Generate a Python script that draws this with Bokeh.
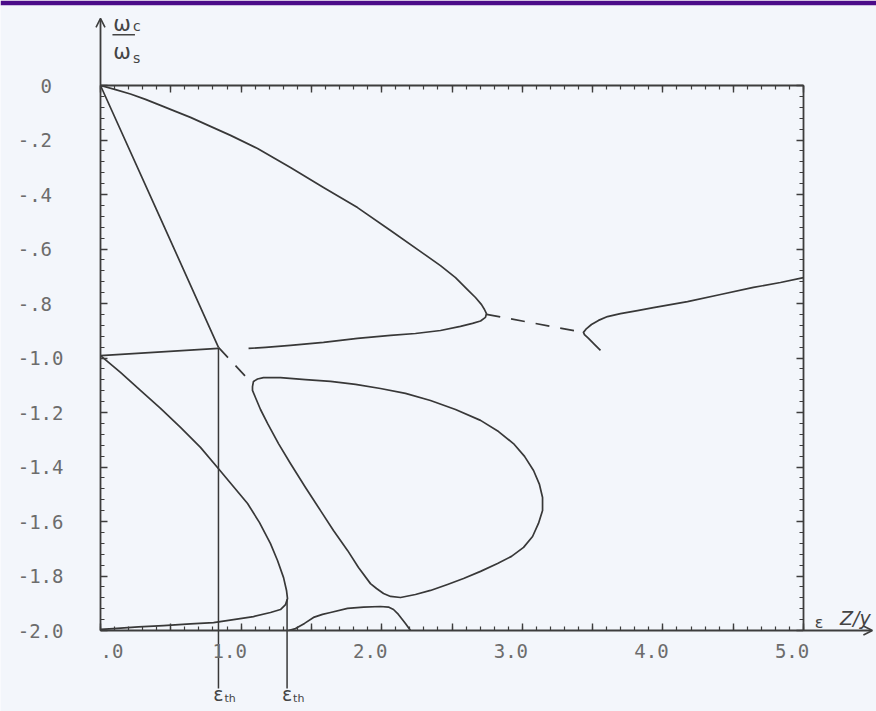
from bokeh.plotting import figure
from bokeh.models import LinearAxis, FixedTicker, Range1d, Arrow, OpenHead
from bokeh.core.properties import value
from bokeh.embed import file_html
from bokeh.resources import INLINE

# ---------------- data ----------------
# upper branch: from the origin out to the turning point, then back towards the crossing
wing_x = [0.0, 0.107, 0.213, 0.320, 0.427, 0.533, 0.640, 0.782, 0.925, 1.117, 1.351, 1.586,
          1.828, 2.063, 2.297, 2.418, 2.525, 2.610, 2.667, 2.710, 2.731, 2.745, 2.738, 2.703,
          2.646, 2.560, 2.418, 2.240, 2.063, 1.828, 1.586, 1.351, 1.174, 1.053]
wing_y = [0.0, -0.015, -0.031, -0.051, -0.073, -0.095, -0.117, -0.150, -0.183, -0.231, -0.301,
          -0.374, -0.448, -0.532, -0.617, -0.661, -0.705, -0.749, -0.778, -0.804, -0.822, -0.837,
          -0.851, -0.864, -0.873, -0.884, -0.899, -0.910, -0.917, -0.928, -0.943, -0.954, -0.961,
          -0.965]

# dashed link between the turning point and the right-hand branch
link_x = [2.745, 3.435]
link_y = [-0.840, -0.906]

# right-hand branch (short lower stub, junction, rising branch)
right_x = [3.556, 3.513, 3.471, 3.442, 3.435, 3.457, 3.492, 3.542, 3.606, 3.698, 3.819, 3.933,
           4.175, 4.410, 4.644, 4.836, 5.0]
right_y = [-0.972, -0.950, -0.928, -0.914, -0.906, -0.892, -0.877, -0.862, -0.848, -0.837,
           -0.826, -0.815, -0.793, -0.767, -0.741, -0.723, -0.705]

# steep branch from the origin down to the first threshold
steep_x = [0.0, 0.420, 0.839]
steep_y = [0.0, -0.480, -0.961]

# dashed continuation of the steep branch
steep_dash_x = [0.839, 1.075]
steep_dash_y = [-0.961, -1.092]

# nearly flat branch starting at -1
flat_x = [0.0, 0.839]
flat_y = [-0.991, -0.965]

# closed loop
loop_x = [1.081, 1.088, 1.117, 1.159, 1.280, 1.458, 1.636, 1.814, 1.991, 2.169, 2.347, 2.525,
          2.703, 2.831, 2.937, 3.016, 3.080, 3.122, 3.144, 3.144, 3.115, 3.073, 3.009, 2.923,
          2.824, 2.703, 2.582, 2.468, 2.347, 2.240, 2.134, 2.063, 2.013, 1.963, 1.920, 1.835,
          1.757, 1.657, 1.565, 1.458, 1.351, 1.266, 1.188, 1.138, 1.102, 1.081, 1.081]
loop_y = [-1.105, -1.086, -1.077, -1.072, -1.072, -1.079, -1.086, -1.097, -1.112, -1.130,
          -1.156, -1.189, -1.229, -1.270, -1.314, -1.361, -1.413, -1.464, -1.512, -1.560,
          -1.607, -1.655, -1.695, -1.728, -1.754, -1.783, -1.809, -1.831, -1.853, -1.868,
          -1.879, -1.875, -1.864, -1.846, -1.828, -1.769, -1.706, -1.633, -1.560, -1.475,
          -1.387, -1.314, -1.240, -1.189, -1.145, -1.119, -1.105]

# lower-left branch from -1 down to the second threshold and back to -2
lower_x = [0.0, 0.142, 0.284, 0.427, 0.569, 0.711, 0.832, 0.939, 1.046, 1.131, 1.209, 1.259,
           1.302, 1.323, 1.330, 1.316, 1.280, 1.209, 1.088, 0.946, 0.804, 0.640, 0.448, 0.270,
           0.092, 0.0]
lower_y = [-0.991, -1.053, -1.119, -1.185, -1.255, -1.328, -1.402, -1.468, -1.534, -1.604,
           -1.681, -1.743, -1.806, -1.853, -1.883, -1.905, -1.923, -1.934, -1.949, -1.960,
           -1.971, -1.976, -1.982, -1.987, -1.993, -1.996]

# small hump near the bottom
hump_x = [1.337, 1.387, 1.451, 1.515, 1.579, 1.636, 1.757, 1.871, 1.991, 2.048, 2.084, 2.119,
          2.169, 2.205]
hump_y = [-2.0, -1.993, -1.974, -1.952, -1.941, -1.934, -1.919, -1.914, -1.912, -1.914,
          -1.923, -1.941, -1.974, -2.0]

# threshold values and where their markers start
eps_th = [0.839, 1.327]
eps_th_top = [-0.963, -1.885]

# ticks
x_ticks = [0.0, 0.5, 1.0, 1.5, 2.0, 2.5, 3.0, 3.5, 4.0, 4.5, 5.0]
x_tick_labels = ["\u00a0\u00a0.0", "", "1.0\u00a0\u00a0", "", "2.0\u00a0\u00a0", "",
                 "3.0\u00a0\u00a0", "", "4.0\u00a0\u00a0", "", "5.0\u00a0\u00a0"]
x_minor = [i / 10 for i in range(51)]
y_ticks = [0.0, -0.2, -0.4, -0.6, -0.8, -1.0, -1.2, -1.4, -1.6, -1.8, -2.0]
y_tick_labels = ["0\u00a0", "-.2\u00a0", "-.4\u00a0", "-.6\u00a0", "-.8\u00a0", "-1.0",
                 "-1.2", "-1.4", "-1.6", "-1.8", "-2.0"]
y_minor = [-i * 0.04 for i in range(51)]

# ---------------- layout ----------------
W, H = 876, 711
TOP_BAND = 5
X0_PX, X_SCALE = 100.0, 140.6      # pixel of x=0, pixels per unit
Y0_PX, Y_SCALE = 85.0, 272.5       # pixel of y=0, pixels per unit

x_range = Range1d(-X0_PX / X_SCALE, (W - X0_PX) / X_SCALE)
y_range = Range1d(-(H - Y0_PX) / Y_SCALE, (Y0_PX - TOP_BAND) / Y_SCALE)

INK = "#383838"
FRAME = "#3d3d3d"
LABEL = "#6c6c6c"
PEN = "#444444"
MONO = "DejaVu Sans Mono"

p = figure(width=W, height=H, x_range=x_range, y_range=y_range,
           x_axis_type=None, y_axis_type=None,
           toolbar_location=None, output_backend="svg",
           min_border=0, min_border_top=TOP_BAND,
           border_fill_color="#4b0c89", background_fill_color="#f3f6fb",
           outline_line_color=None)


def frame_axis(fixed, bounds, ticks, minor, labels, standoff=0):
    ax = LinearAxis(fixed_location=fixed, bounds=bounds,
                    ticker=FixedTicker(ticks=ticks, minor_ticks=minor),
                    major_label_overrides=dict(zip(ticks, labels)),
                    axis_line_color=FRAME, axis_line_width=1.8,
                    major_tick_line_color=FRAME, major_tick_line_width=1.4,
                    minor_tick_line_color=FRAME, minor_tick_line_width=1.2,
                    major_tick_in=7, major_tick_out=0,
                    minor_tick_in=4, minor_tick_out=0,
                    major_label_standoff=standoff,
                    major_label_text_font=MONO,
                    major_label_text_font_size="19px",
                    major_label_text_color=LABEL)
    return ax


blank_x = [""] * len(x_ticks)
blank_y = [""] * len(y_ticks)

p.add_layout(frame_axis(0, (-2, 0), y_ticks, y_minor, y_tick_labels, standoff=37), "left")
p.add_layout(frame_axis(5, (-2, 0), y_ticks, y_minor, blank_y), "right")
p.add_layout(frame_axis(-2, (0, 5), x_ticks, x_minor, x_tick_labels, standoff=9), "below")
p.add_layout(frame_axis(0, (0, 5), x_ticks, x_minor, blank_x), "above")

# axis arrows beyond the frame
p.add_layout(Arrow(end=OpenHead(size=9, line_color=FRAME, line_width=1.6),
                   x_start=0, y_start=0, x_end=0, y_end=0.246,
                   line_color=FRAME, line_width=1.8))
p.add_layout(Arrow(end=OpenHead(size=9, line_color=FRAME, line_width=1.6),
                   x_start=5, y_start=-2, x_end=5.49, y_end=-2,
                   line_color=FRAME, line_width=1.8))

# curves
solid = dict(line_color=INK, line_width=1.7, line_join="round")
dashed = dict(line_color=INK, line_width=1.7, line_dash="14 11")
p.line(wing_x, wing_y, **solid)
p.line(link_x, link_y, **dashed)
p.line(right_x, right_y, **solid)
p.line(steep_x, steep_y, **solid)
p.line(steep_dash_x, steep_dash_y, **dashed)
p.line(flat_x, flat_y, **solid)
p.line(loop_x, loop_y, **solid)
p.line(lower_x, lower_y, **solid)
p.line(hump_x, hump_y, **solid)

# threshold markers
p.segment(x0=eps_th, y0=eps_th_top, x1=eps_th, y1=[-2.213] * 2,
          line_color=INK, line_width=1.5)
p.text(x=eps_th, y=[-2.232] * 2, text=["\u03b5"] * 2,
       text_font=value("DejaVu Sans"), text_font_size="19px", text_color=PEN,
       text_align="center", text_baseline="middle")
p.text(x=eps_th, y=[-2.232] * 2, text=["th"] * 2, x_offset=6, y_offset=5,
       text_font=value("DejaVu Sans"), text_font_size="11px", text_color=PEN,
       text_align="left", text_baseline="middle")

# axis titles
hand = value("DejaVu Sans")
p.text(x=[0.09, 0.09], y=[0.226, 0.122], text=["\u03c9", "\u03c9"],
       text_font=hand, text_font_size="21px", text_color=PEN,
       text_align="left", text_baseline="middle")
p.text(x=[0.232, 0.232], y=[0.220, 0.100], text=["c", "s"],
       text_font=hand, text_font_size="14px", text_color=PEN,
       text_align="left", text_baseline="middle")
p.segment(x0=[0.085], y0=[0.186], x1=[0.245], y1=[0.186], line_color=PEN, line_width=1.4)

p.text(x=[5.11], y=[-1.972], text=["\u03b5"],
       text_font=hand, text_font_size="16px", text_color=PEN,
       text_align="center", text_baseline="middle")
p.text(x=[5.26], y=[-1.955], text=["Z/y"],
       text_font=hand, text_font_size="19px", text_font_style="italic", text_color=PEN,
       text_align="left", text_baseline="middle")

open("out.html", "w").write(file_html(p, INLINE))
